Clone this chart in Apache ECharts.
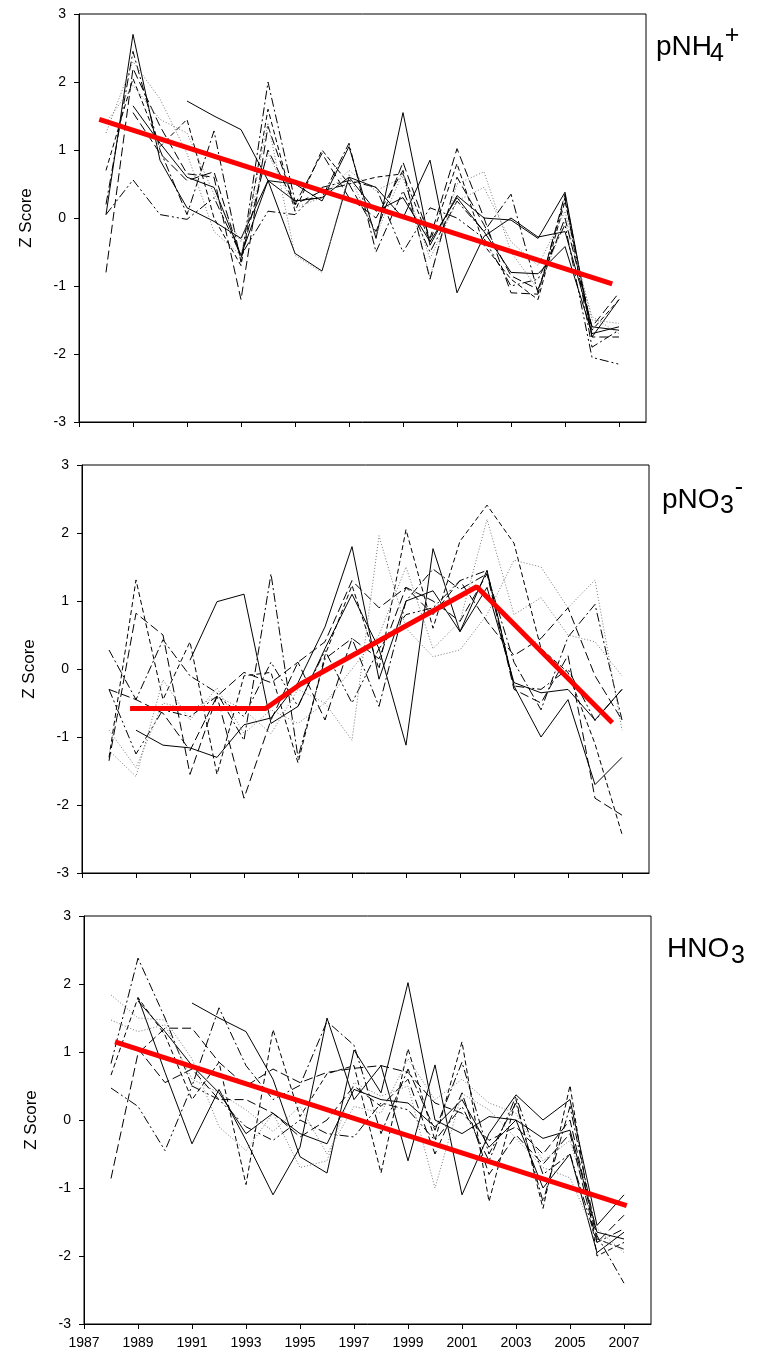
<!DOCTYPE html>
<html>
<head>
<meta charset="utf-8">
<script src="https://cdn.jsdelivr.net/npm/echarts@6/dist/echarts.min.js"></script>
<style>
  html, body { margin: 0; padding: 0; background: #fff; }
  #chart { width: 760px; height: 1354px; }
</style>
</head>
<body>
<div id="chart"></div>
<script>
// shared axes
const years = [1988, 1989, 1990, 1991, 1992, 1993, 1994, 1995, 1996, 1997,
               1998, 1999, 2000, 2001, 2002, 2003, 2004, 2005, 2006, 2007];
const tickYears = [1987, 1989, 1991, 1993, 1995, 1997, 1999, 2001, 2003, 2005, 2007];
const yTicks = [-3, -2, -1, 0, 1, 2, 3];

// pNH4+ z scores per station
const nh4Solid1 = [0.05, 2.7, 0.85, 0.15, -0.05, -0.3, 0.55, 0.5, 0.25, 1.05, -0.3, 1.55, -0.4, 0.33, 0.0, -0.03, -0.3, 0.38, -1.75, -1.2];
const nh4Solid2 = [null, null, null, 1.72, 1.5, 1.3, 0.55, -0.52, -0.78, 0.6, 0.45, 0.0, 0.85, -1.1, -0.27, 0.0, -0.28, -0.2, -1.6, -1.65];
const nh4Solid3 = [null, 1.65, 1.1, 0.6, 0.45, -0.55, 0.55, 0.25, 0.3, 0.6, 0.1, 0.3, -0.35, 0.3, -0.2, -0.8, -0.82, -0.42, -1.7, -1.6];
const nh4LongDash = [-0.8, 2.2, 1.35, 0.65, 0.6, -1.2, 1.35, 0.2, 0.4, 0.5, -0.2, 0.82, -0.3, 1.02, 0.0, -1.1, -1.12, 0.35, -1.75, -1.75];
const nh4Dash = [0.7, 2.05, 1.05, 1.45, 0.0, -0.7, 1.6, 0.1, 1.0, 0.5, 0.6, 0.65, -0.35, 0.8, -0.4, -0.9, -1.2, 0.25, -1.65, -1.2];
const nh4DashDot = [0.2, 2.45, 1.0, 0.05, 1.28, -0.65, 2.0, 0.25, 0.3, 1.1, -0.5, 0.4, -0.5, 0.25, -0.2, 0.35, -1.1, 0.3, -1.9, -1.65];
const nh4DashDotDot = [0.05, 0.56, 0.05, -0.02, 0.3, -0.55, 0.1, 0.05, 0.45, 0.55, 0.45, -0.5, 0.15, 0.0, -0.3, -1.0, -0.9, -0.1, -2.05, -2.15];
const nh4Dot1 = [1.25, 2.3, 1.75, 0.95, -0.2, -0.55, 1.4, -0.55, -0.8, 0.65, -0.25, 0.67, -0.87, 0.5, 0.68, -0.5, -1.05, -0.05, -1.45, -1.7];
const nh4Dot2 = [1.4, 1.95, 1.45, 1.25, 0.35, -0.35, 0.95, 0.15, 0.3, 0.7, 0.4, 0.6, -0.6, 0.25, 0.45, -0.35, -0.7, 0.1, -1.5, -1.55];
const nh4LongDash2 = [null, 1.55, 0.95, 0.55, 0.68, -0.6, 1.0, 0.2, 0.95, 0.3, 0.0, 0.7, -0.9, 0.6, -0.1, -0.85, -1.05, 0.0, -1.6, -1.1];
const nh4Trend = [[1987.75, 1.45], [2006.75, -0.97]];

// pNO3- z scores per station
const no3Solid1 = [null, -0.9, -1.12, -1.16, -1.3, -0.82, -0.72, -0.2, 0.62, 1.8, -0.15, 1.0, 1.15, 0.55, 1.2, -0.2, -0.35, -0.3, -0.75, -0.3];
const no3Solid2 = [null, null, null, 0.13, 0.99, 1.1, -0.8, -0.55, 0.3, 1.1, 0.3, -1.12, 1.77, 0.55, 1.45, -0.25, -1.0, -0.45, -1.7, -1.3];
const no3LongDash = [-1.35, 0.82, 0.5, -1.55, -0.4, -1.9, -0.75, 0.1, 0.4, 1.3, 0.9, 1.2, 1.0, 0.7, 1.4, -0.3, -0.5, 0.2, -1.9, -2.15];
const no3Dash = [-1.3, 1.31, -0.45, 0.4, -1.55, -0.1, -0.05, -1.38, 0.2, 1.23, 0.0, 2.05, 0.6, 1.88, 2.41, 1.85, 0.3, -0.05, -1.1, -2.43];
const no3DashDot = [0.28, -0.45, 0.43, -0.1, -0.35, -1.05, 1.4, -1.3, 0.15, 0.45, -0.55, 1.0, 1.47, 1.17, 1.4, 0.1, -0.6, 0.47, 0.95, -0.75];
const no3DashDotDot = [-0.3, -1.25, -0.6, -0.7, -0.4, -0.7, 0.1, -0.55, 0.27, -0.5, 0.3, 0.8, 0.9, 1.3, 1.45, -0.25, -0.3, 0.0, -0.76, -0.3];
const no3Dot1 = [-1.2, -1.58, -0.16, -0.75, -0.28, -0.95, -0.6, -0.8, -0.5, -1.05, 1.96, 0.6, 0.18, 0.28, 0.8, 1.6, 1.5, 0.9, 1.31, -0.9];
const no3Dot2 = [-0.9, -1.45, -0.5, -0.6, -0.4, -0.6, -0.95, -0.3, -0.5, 0.0, 0.5, 1.5, 0.3, 0.7, 2.2, 0.8, 1.05, 0.5, 0.4, -0.1];
const no3LongDash2 = [-0.3, -0.45, -0.65, -1.2, -0.4, -0.05, -0.2, 0.1, -0.75, 0.45, 0.15, 1.2, 0.8, 1.3, 0.7, 0.2, 0.45, 0.9, -0.1, -0.75];
const no3Trend = [[1988.78, -0.58], [1993.8, -0.58], [1995.1, -0.22], [2001.62, 1.21], [2006.64, -0.79]];

// HNO3 z scores per station
const hno3Solid1 = [null, 1.8, 0.7, -0.35, 0.45, -0.3, -1.1, -0.4, 1.5, 0.3, 0.8, -0.6, 0.81, -1.1, -0.2, 0.37, 0.0, 0.3, -1.55, -1.1];
const hno3Solid2 = [null, null, null, 1.72, 1.5, 1.3, 0.6, -0.54, -0.78, 1.03, 0.4, 2.02, 0.0, -0.2, 0.05, 0.0, -0.27, -0.15, -1.65, -1.75];
const hno3Solid3 = [null, 1.75, 1.3, 0.8, 0.4, -0.2, 0.1, -0.2, -0.35, 0.45, 0.3, 0.25, -0.1, 0.3, -0.4, 0.0, -1.0, -0.5, -1.95, -1.65];
const hno3LongDash = [-0.86, 0.98, 1.35, 1.35, 0.85, 0.5, 0.75, 0.55, 0.7, 0.76, 0.8, 0.7, 0.25, 0.1, -0.3, -0.1, -0.5, 0.0, -1.75, -1.9];
const hno3Dash = [0.66, 1.8, 1.25, 0.3, 0.85, -0.95, 1.33, 0.05, 0.68, 0.8, -0.78, 1.05, -0.3, 1.15, -1.2, 0.3, -1.3, 0.51, -2.0, -1.8];
const hno3DashDot = [0.83, 2.38, 1.5, 0.5, 1.65, 0.8, 0.3, 0.51, 1.45, 1.1, -0.2, 0.75, -0.15, 0.85, -0.5, 0.25, -1.2, 0.2, -1.7, -2.4];
const hno3DashDotDot = [0.47, 0.2, -0.45, 0.5, 0.3, -0.1, -0.3, 0.0, -0.2, -0.25, 0.25, 0.15, -0.3, 0.2, -0.6, 0.35, -0.8, -0.5, -1.8, -1.6];
const hno3Dot1 = [1.84, 1.5, 1.47, 0.9, -0.1, -0.45, 0.1, -0.7, -0.6, 0.55, 0.35, 0.5, -1.0, 0.39, 0.15, -0.27, -0.7, -0.85, -1.75, -1.9];
const hno3Dot2 = [1.47, 1.3, 1.4, 0.6, 0.4, 0.15, -0.17, 0.2, -0.5, 0.2, 0.1, 0.9, 0.3, 0.6, 0.25, 0.1, -0.6, -0.3, -1.6, -1.95];
const hno3LongDash2 = [null, 1.05, 0.55, 0.75, 0.3, 0.3, 0.1, -0.25, 0.0, 0.5, 0.2, 0.6, -0.5, 0.4, -0.8, -0.22, -0.65, -0.2, -1.8, -1.4];
const hno3Trend = [[1988.15, 1.15], [2007.1, -1.26]];

const FONT = '"Liberation Sans", Arial, sans-serif';
const dashes = {
  solid: 'solid',
  longDash: [9, 4],
  dash: [5, 3],
  dashDot: [9, 3, 2, 3],
  dashDotDot: [9, 3, 2, 3, 2, 3],
  dot: [1, 2],
};

const panels = [
  {
    lines: [
      [nh4Solid1, 'solid'], [nh4Solid2, 'solid'], [nh4Solid3, 'solid'],
      [nh4LongDash, 'longDash'], [nh4Dash, 'dash'], [nh4DashDot, 'dashDot'],
      [nh4DashDotDot, 'dashDotDot'], [nh4Dot1, 'dot'], [nh4Dot2, 'dot'], [nh4LongDash2, 'longDash'],
    ],
    trend: nh4Trend,
    grid: { left: 79, top: 14 },
  },
  {
    lines: [
      [no3Solid1, 'solid'], [no3Solid2, 'solid'], [no3LongDash, 'longDash'],
      [no3Dash, 'dash'], [no3DashDot, 'dashDot'], [no3DashDotDot, 'dashDotDot'],
      [no3Dot1, 'dot'], [no3Dot2, 'dot'], [no3LongDash2, 'longDash'],
    ],
    trend: no3Trend,
    grid: { left: 82, top: 465 },
  },
  {
    lines: [
      [hno3Solid1, 'solid'], [hno3Solid2, 'solid'], [hno3Solid3, 'solid'],
      [hno3LongDash, 'longDash'], [hno3Dash, 'dash'], [hno3DashDot, 'dashDot'],
      [hno3DashDotDot, 'dashDotDot'], [hno3Dot1, 'dot'], [hno3Dot2, 'dot'], [hno3LongDash2, 'longDash'],
    ],
    trend: hno3Trend,
    grid: { left: 84, top: 916 },
  },
];

const series = [];
panels.forEach((p, i) => {
  p.lines.forEach(([values, kind]) => {
    series.push({
      type: 'line',
      xAxisIndex: i,
      yAxisIndex: i,
      data: years.map((yr, k) => [yr, values[k]]).filter(d => d[1] !== null),
      symbol: 'none',
      silent: true,
      lineStyle: { width: 1, type: dashes[kind], color: kind === 'dot' ? '#7a7a7a' : '#000' },
      z: 2,
    });
  });
  series.push({
    type: 'line',
    xAxisIndex: i,
    yAxisIndex: i,
    data: p.trend,
    symbol: 'none',
    silent: true,
    lineStyle: { width: 5, color: '#ff0000', cap: 'butt' },
    z: 5,
  });
});

// title pieces: main text, subscript, superscript
const big = '28px ' + FONT;
const small = '25px ' + FONT;
function txt(x, y, text, font, align) {
  return { type: 'text', x, y, silent: true,
           style: { text, font, fill: '#000', align: align || 'left', verticalAlign: 'middle' } };
}

const chart = echarts.init(document.getElementById('chart'), null, { renderer: 'canvas' });
chart.setOption({
  animation: false,
  backgroundColor: '#fff',
  grid: panels.map(p => ({
    left: p.grid.left, top: p.grid.top, width: 567, height: 408,
    show: true, borderColor: '#000', borderWidth: 1, backgroundColor: 'transparent',
  })),
  xAxis: panels.map((p, i) => ({
    gridIndex: i,
    type: 'value',
    min: 1987,
    max: 2008,
    axisLine: { show: true, onZero: false, lineStyle: { color: '#000', width: 1 } },
    axisTick: { show: true, length: 5, customValues: tickYears, lineStyle: { color: '#000' } },
    axisLabel: {
      show: i === 2, customValues: tickYears, fontSize: 14, color: '#000',
      fontFamily: FONT, margin: 12, formatter: v => String(v),
    },
    splitLine: { show: false },
  })),
  yAxis: panels.map((p, i) => ({
    gridIndex: i,
    type: 'value',
    min: yTicks[0],
    max: yTicks[yTicks.length - 1],
    interval: 1,
    name: 'Z Score',
    nameLocation: 'middle',
    nameRotate: 90,
    nameGap: 44,
    nameTextStyle: { fontSize: 17, color: '#000', fontFamily: FONT },
    axisLine: { show: true, onZero: false, lineStyle: { color: '#000', width: 1 } },
    axisTick: { show: true, length: 5, lineStyle: { color: '#000' } },
    axisLabel: { fontSize: 14, color: '#000', fontFamily: FONT, margin: 13 },
    splitLine: { show: false },
  })),
  graphic: [
    txt(656, 47, 'pNH', big),
    txt(710, 54, '4', small),
    txt(732, 36, '+', small, 'center'),
    txt(662, 500, 'pNO', big),
    txt(720, 506, '3', small),
    txt(739, 488, '-', small, 'center'),
    txt(667, 949, 'HNO', big),
    txt(731, 956, '3', small),
  ],
  series,
});
</script>
</body>
</html>
